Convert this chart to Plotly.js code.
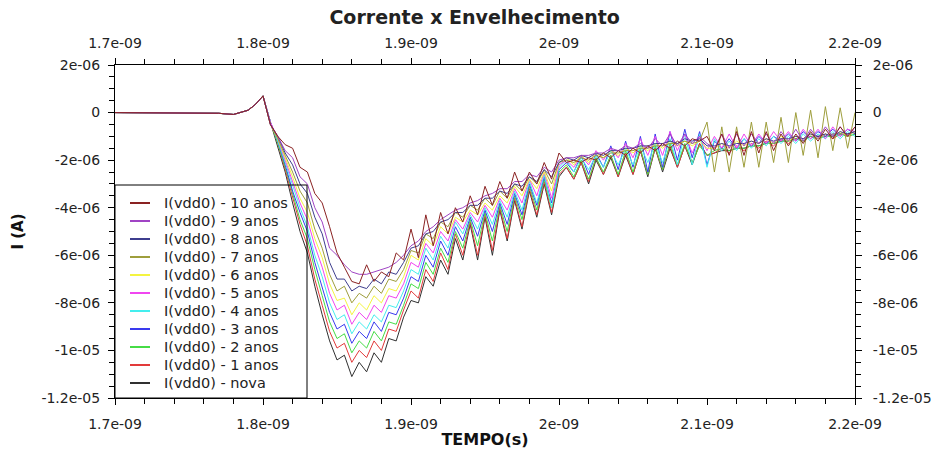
<!DOCTYPE html>
<html>
<head>
<meta charset="utf-8">
<script src="https://cdn.plot.ly/plotly-3.0.1.min.js"></script>
<style>html,body{margin:0;padding:0;background:#fff;}#chart{width:938px;height:453px;}</style>
</head>
<body>
<div id="chart"></div>
<script>
// time in ns
const tempo = [1.70, 1.72, 1.74, 1.76, 1.77, 1.78, 1.79, 1.795, 1.80,
  1.805, 1.81, 1.815, 1.82, 1.825, 1.83, 1.835, 1.84, 1.845, 1.85,
  1.855, 1.86, 1.865, 1.87, 1.875, 1.88, 1.885, 1.89, 1.895, 1.9,
  1.905, 1.91, 1.915, 1.92, 1.925, 1.93, 1.935, 1.94, 1.945, 1.95,
  1.955, 1.96, 1.965, 1.97, 1.975, 1.98, 1.985, 1.99, 1.995, 2.0,
  2.005, 2.01, 2.015, 2.02, 2.025, 2.03, 2.035, 2.04, 2.045, 2.05,
  2.055, 2.06, 2.065, 2.07, 2.075, 2.08, 2.085, 2.09, 2.095, 2.1,
  2.105, 2.11, 2.115, 2.12, 2.125, 2.13, 2.135, 2.14, 2.145, 2.15,
  2.155, 2.16, 2.165, 2.17, 2.175, 2.18, 2.185, 2.19, 2.195, 2.2];

// current in microampere; common start (1.70 .. 1.80 ns)
const inicio = [0, 0, 0, -0.01, -0.03, -0.08, 0.1, 0.35, 0.7];

const nova = [-0.4, -1.4, -2.5, -3.8, -5.0, -5.9, -7.3, -8.5, -9.6,
  -10.4, -10.2, -11.1, -10.5, -10.9, -10.1, -10.5, -9.5, -9.6, -8.6,
  -7.9, -8.0, -6.9, -7.3, -6.2, -6.8, -5.3, -6.2, -4.7, -6.2, -4.4, -6.0, -4.1, -5.4, -3.7, -4.9, -3.3, -4.4, -3.0, -4.3, -2.7,
  -2.3, -2.8, -2.1, -3.0, -2.0, -2.6, -1.9, -2.7, -1.8, -2.6, -1.6, -2.7, -1.5, -2.5, -1.5, -2.3, -1.4, -2.2, -1.3, -1.8,
  -1.7, -1.6, -1.6, -1.5, -1.5, -1.4, -1.4, -1.3, -1.3, -1.2, -1.2, -1.1, -1.1, -1.0, -1.0, -1.0, -0.9, -0.9, -0.9, -0.8];
const anos1 = [-0.4, -1.3, -2.4, -3.6, -4.7, -5.6, -7.0, -8.1, -9.2,
  -9.9, -9.7, -10.5, -10.0, -10.3, -9.6, -10.0, -9.1, -9.2, -8.3,
  -7.5, -7.8, -6.6, -7.1, -5.9, -6.6, -5.1, -6.0, -4.6, -6.0, -4.3, -5.8, -4.0, -5.3, -3.6, -4.8, -3.2, -4.3, -2.9, -4.2, -2.6,
  -2.3, -2.8, -2.1, -2.9, -1.9, -2.6, -1.8, -2.7, -1.7, -2.6, -1.6, -2.6, -1.5, -2.4, -1.4, -2.3, -1.4, -2.1, -1.3, -1.8,
  -1.7, -1.5, -1.7, -1.4, -1.6, -1.3, -1.5, -1.2, -1.4, -1.1, -1.3, -1.1, -1.2, -1.0, -1.1, -0.9, -1.1, -0.9, -1.0, -0.9];
const anos2 = [-0.4, -1.3, -2.3, -3.4, -4.5, -5.3, -6.6, -7.7, -8.8,
  -9.5, -9.3, -10.1, -9.6, -9.9, -9.2, -9.6, -8.8, -8.9, -8.1,
  -7.2, -7.4, -6.3, -6.8, -5.7, -6.3, -5.0, -5.7, -4.5, -5.6, -4.2, -5.4, -3.9, -5.0, -3.5, -4.5, -3.1, -4.1, -2.8, -4.0, -2.5,
  -2.2, -2.7, -2.0, -2.8, -1.9, -2.5, -1.8, -2.6, -1.6, -2.5, -1.5, -2.6, -1.4, -2.4, -1.3, -2.2, -1.3, -2.1, -1.4, -1.8,
  -1.6, -1.5, -1.6, -1.5, -1.5, -1.4, -1.4, -1.3, -1.3, -1.2, -1.2, -1.1, -1.2, -1.0, -1.1, -1.0, -1.0, -0.9, -1.0, -0.9];
const anos3 = [-0.4, -1.2, -2.2, -3.3, -4.2, -5.0, -6.3, -7.3, -8.4,
  -9.1, -8.9, -9.7, -9.2, -9.5, -8.8, -9.2, -8.4, -8.5, -7.8,
  -6.9, -7.1, -6.0, -6.5, -5.4, -6.0, -4.8, -5.4, -4.4, -5.2, -4.1, -5.0, -3.8, -4.7, -3.4, -4.3, -3.0, -3.9, -2.7, -3.8, -2.4,
  -2.1, -2.5, -1.8, -2.6, -1.7, -2.3, -1.4, -2.4, -1.2, -2.3, -1.0, -2.5, -0.9, -2.3, -0.8, -2.0, -0.7, -1.9, -0.8, -2.2,
  -1.2, -1.5, -1.1, -1.5, -1.1, -1.4, -1.0, -1.3, -1.0, -1.2, -0.9, -1.2, -0.8, -1.1, -0.8, -1.0, -0.7, -1.0, -0.7, -0.9];
const anos4 = [-0.4, -1.2, -2.1, -3.1, -4.0, -4.8, -6.0, -6.9, -8.0,
  -8.7, -8.5, -9.3, -8.8, -9.1, -8.5, -8.8, -8.1, -8.2, -7.5,
  -6.6, -6.8, -5.7, -6.2, -5.2, -5.7, -4.6, -5.1, -4.3, -4.9, -4.0, -4.7, -3.7, -4.4, -3.3, -4.1, -2.9, -3.8, -2.6, -4.0, -2.3,
  -2.0, -2.5, -1.9, -2.4, -1.8, -2.3, -1.6, -2.2, -1.5, -2.2, -1.4, -2.1, -1.3, -2.1, -1.1, -2.2, -0.9, -2.2, -0.9, -2.3,
  -1.1, -1.6, -1.2, -1.6, -1.1, -1.5, -1.1, -1.4, -1.0, -1.3, -1.0, -1.3, -0.9, -1.2, -0.9, -1.1, -0.8, -1.1, -0.8, -1.0];
const anos5 = [-0.4, -1.1, -2.0, -2.9, -3.8, -4.5, -5.6, -6.5, -7.6,
  -8.3, -8.1, -8.9, -8.4, -8.7, -8.1, -8.4, -7.7, -7.8, -7.2,
  -6.3, -6.5, -5.5, -5.9, -5.0, -5.4, -4.5, -4.9, -4.2, -4.6, -3.9, -4.4, -3.6, -4.1, -3.2, -3.8, -2.8, -3.5, -2.5, -3.6, -2.2,
  -2.0, -2.3, -1.8, -2.2, -1.6, -2.0, -1.5, -1.9, -1.3, -1.9, -1.1, -1.8, -1.0, -1.8, -0.8, -1.6, -0.9, -1.7, -1.0, -1.6,
  -1.0, -1.5, -0.9, -1.5, -0.9, -1.4, -0.9, -1.3, -0.8, -1.2, -0.8, -1.2, -0.7, -1.1, -0.7, -1.1, -0.6, -1.0, -0.7, -0.8];
const anos6 = [-0.5, -1.1, -1.9, -2.7, -3.6, -4.2, -5.3, -6.1, -7.2,
  -7.9, -7.8, -8.5, -8.0, -8.3, -7.7, -8.0, -7.4, -7.5, -6.9,
  -6.0, -6.2, -5.3, -5.6, -4.8, -5.1, -4.4, -4.6, -4.1, -4.3, -3.8, -4.1, -3.5, -3.8, -3.1, -3.5, -2.8, -3.2, -2.5, -3.3, -2.1,
  -1.9, -2.2, -1.8, -2.1, -1.7, -1.9, -1.6, -1.8, -1.5, -1.7, -1.4, -1.6, -1.3, -1.5, -1.2, -1.4, -1.2, -1.4, -1.2, -1.5,
  -1.5, -1.3, -1.5, -1.2, -1.4, -1.2, -1.3, -1.1, -1.3, -1.0, -1.2, -1.0, -1.1, -0.9, -1.1, -0.9, -1.0, -0.8, -1.0, -0.8];
const anos7 = [-0.5, -1.1, -1.8, -2.5, -3.3, -3.8, -4.9, -5.7, -6.8,
  -7.5, -7.3, -8.0, -7.6, -7.8, -7.3, -7.6, -7.0, -7.1, -6.6,
  -5.8, -5.9, -5.1, -5.3, -4.6, -4.8, -4.2, -4.4, -3.9, -4.1, -3.6, -3.9, -3.3, -3.6, -3.0, -3.3, -2.7, -3.0, -2.4, -3.0, -2.1,
  -2.0, -2.1, -1.9, -2.0, -1.8, -1.9, -1.7, -1.7, -1.6, -1.6, -1.5, -1.5, -1.4, -1.4, -1.3, -1.3, -1.2, -1.3, -1.2, -0.4,
  -2.5, -0.6, -2.5, -0.6, -2.3, -0.4, -2.3, -0.4, -2.1, -0.2, -2.1, 0.0, -1.8, 0.1, -1.9, 0.25, -1.6, 0.2, -1.5, 0.0];
const anos8 = [-0.5, -1.0, -1.7, -2.2, -3.0, -3.4, -4.4, -5.1, -6.3,
  -7.0, -7.0, -7.5, -7.3, -7.4, -7.0, -7.2, -6.7, -6.8, -6.3,
  -5.7, -5.6, -5.1, -5.0, -4.6, -4.5, -4.2, -4.2, -3.9, -3.9, -3.6, -3.6, -3.3, -3.4, -3.0, -3.1, -2.7, -2.9, -2.4, -2.7, -2.1,
  -1.9, -2.0, -1.8, -1.9, -1.7, -1.8, -1.6, -1.6, -1.5, -1.5, -1.4, -1.4, -1.3, -1.3, -1.2, -1.3, -1.1, -1.2, -1.1, -1.4,
  -1.4, -1.3, -1.4, -1.3, -1.3, -1.2, -1.3, -1.1, -1.2, -1.1, -1.1, -1.0, -1.1, -0.9, -1.0, -0.9, -1.0, -0.8, -0.9, -0.8];
const anos9 = [-0.5, -1.0, -1.6, -1.9, -2.7, -3.0, -4.0, -4.6, -5.7,
  -6.0, -6.4, -6.7, -6.8, -6.8, -6.7, -6.6, -6.5, -6.3, -6.0,
  -5.6, -5.4, -5.0, -4.8, -4.5, -4.3, -4.1, -4.0, -3.8, -3.7, -3.5, -3.4, -3.2, -3.2, -2.9, -2.9, -2.6, -2.7, -2.3, -2.5, -2.0,
  -1.9, -1.9, -1.8, -1.8, -1.7, -1.7, -1.5, -1.6, -1.4, -1.5, -1.3, -1.5, -1.1, -1.4, -0.9, -1.4, -0.9, -1.3, -1.0, -1.3,
  -1.5, -0.9, -1.5, -0.9, -1.4, -0.9, -1.3, -0.9, -1.3, -0.8, -1.2, -0.7, -1.2, -0.7, -1.1, -0.6, -1.0, -0.6, -1.0, -0.6];
const anos10 = [-0.5, -1.0, -1.35, -1.5, -2.3, -2.5, -3.4, -3.8, -4.8,
  -5.9, -6.5, -7.1, -7.2, -6.4, -7.1, -6.7, -6.9, -5.9, -6.2,
  -4.9, -6.1, -4.3, -5.6, -4.2, -5.1, -4.0, -4.6, -3.5, -4.3, -3.1, -3.9, -2.9, -3.6, -2.5, -3.3, -2.5, -3.0, -2.1, -2.8, -1.7,
  -2.1, -2.0, -2.1, -1.9, -2.0, -1.7, -1.9, -1.6, -1.8, -1.5, -1.7, -1.4, -1.6, -1.3, -1.5, -1.2, -1.4, -1.1, -1.2, -1.0,
  -1.6, -0.9, -1.8, -0.8, -1.8, -0.8, -1.7, -0.8, -1.6, -0.9, -1.4, -0.9, -1.3, -0.8, -1.2, -0.7, -1.1, -0.6, -1.0, -0.6];

const nomes = ['I(vdd0) - nova', 'I(vdd0) - 1 anos', 'I(vdd0) - 2 anos', 'I(vdd0) - 3 anos',
  'I(vdd0) - 4 anos', 'I(vdd0) - 5 anos', 'I(vdd0) - 6 anos', 'I(vdd0) - 7 anos',
  'I(vdd0) - 8 anos', 'I(vdd0) - 9 anos', 'I(vdd0) - 10 anos'];
const series = [nova, anos1, anos2, anos3, anos4, anos5, anos6, anos7, anos8, anos9, anos10];
const cores = ['#303030', '#e23a3a', '#46dc46', '#3a3aee', '#44eeee', '#f046f0',
  '#f4f440', '#9e9e3c', '#3e3e8e', '#a044c4', '#8a2222'];

const xTickVals = [1.7, 1.8, 1.9, 2.0, 2.1, 2.2];
const xTickText = ['1.7e-09', '1.8e-09', '1.9e-09', '2e-09', '2.1e-09', '2.2e-09'];
const yTickVals = [2, 0, -2, -4, -6, -8, -10, -12];
const yTickText = ['2e-06', '0', '-2e-06', '-4e-06', '-6e-06', '-8e-06', '-1e-05', '-1.2e-05'];

const FONT = 'DejaVu Sans, sans-serif';

const traces = series.map((s, i) => ({
  x: tempo,
  y: inicio.concat(s),
  type: 'scatter',
  mode: 'lines',
  name: nomes[i],
  showlegend: false,
  line: {color: cores[i], width: 1}
}));
traces.push({x: [], y: [], xaxis: 'x2', yaxis: 'y2', type: 'scatter', mode: 'lines',
  showlegend: false, hoverinfo: 'skip'});

// legend drawn in plot-area (paper) coordinates: plot area is 740 x 333 px
const PW = 740, PH = 333;
const shapes = [{type: 'rect', xref: 'paper', yref: 'paper', x0: 0, x1: 192 / PW, y0: 0, y1: 213 / PH,
  line: {color: '#000', width: 1}, fillcolor: 'rgba(0,0,0,0)', layer: 'above'}];
const annotations = [];
for (let k = 0; k < series.length; k++) {
  const i = series.length - 1 - k;           // top entry = 10 anos
  const yy = (213 - 18 - 18 * k) / PH;
  shapes.push({type: 'line', xref: 'paper', yref: 'paper', x0: 15 / PW, x1: 35 / PW, y0: yy, y1: yy,
    line: {color: cores[i], width: 2}, layer: 'above'});
  annotations.push({xref: 'paper', yref: 'paper', x: 47 / PW, y: yy, xanchor: 'left', yanchor: 'middle',
    text: nomes[i], showarrow: false, font: {family: FONT, size: 14.5, color: '#222'}});
}

const baseAxis = {
  showgrid: false, zeroline: false, showline: true, linecolor: '#000', linewidth: 1,
  ticks: 'outside', ticklen: 6, tickcolor: '#000', tickwidth: 1,
  tickfont: {family: FONT, size: 14, color: '#222'},
  tickmode: 'array', autorange: false
};
const xMinor = {tickmode: 'linear', tick0: 1.7, dtick: 0.02, ticks: 'outside', ticklen: 5, tickcolor: '#000'};
const yMinor = {tickmode: 'linear', tick0: 0, dtick: 0.5, ticks: 'outside', ticklen: 5, tickcolor: '#000'};

const layout = {
  width: 938, height: 453,
  paper_bgcolor: '#fff', plot_bgcolor: '#fff',
  margin: {l: 115, r: 83, t: 65, b: 55},
  showlegend: false,
  shapes: shapes,
  annotations: annotations,
  title: {text: '<b>Corrente x Envelhecimento</b>', font: {family: FONT, size: 19, color: '#222'},
    x: 0.506, xanchor: 'center', y: 0.962, yanchor: 'middle'},
  xaxis: Object.assign({}, baseAxis, {
    range: [1.7, 2.2], tickvals: xTickVals, ticktext: xTickText, mirror: true,
    ticklabelstandoff: 7, minor: xMinor,
    title: {text: '<b>TEMPO(s)</b>', font: {family: FONT, size: 16, color: '#111'}, standoff: 3}
  }),
  xaxis2: Object.assign({}, baseAxis, {
    range: [1.7, 2.2], tickvals: xTickVals, ticktext: xTickText,
    overlaying: 'x', side: 'top', anchor: 'y2', ticklabelstandoff: 4, minor: xMinor
  }),
  yaxis: Object.assign({}, baseAxis, {
    range: [-12, 2], tickvals: yTickVals, ticktext: yTickText, mirror: true,
    ticklabelstandoff: 5, minor: yMinor,
    title: {text: '<b>I (A)</b>', font: {family: FONT, size: 15, color: '#111'}, standoff: 14}
  }),
  yaxis2: Object.assign({}, baseAxis, {
    range: [-12, 2], tickvals: yTickVals, ticktext: yTickText,
    overlaying: 'y', side: 'right', anchor: 'x2', ticklabelstandoff: 8, minor: yMinor
  })
};

Plotly.newPlot('chart', traces, layout, {displayModeBar: false, staticPlot: true});
</script>
</body>
</html>
